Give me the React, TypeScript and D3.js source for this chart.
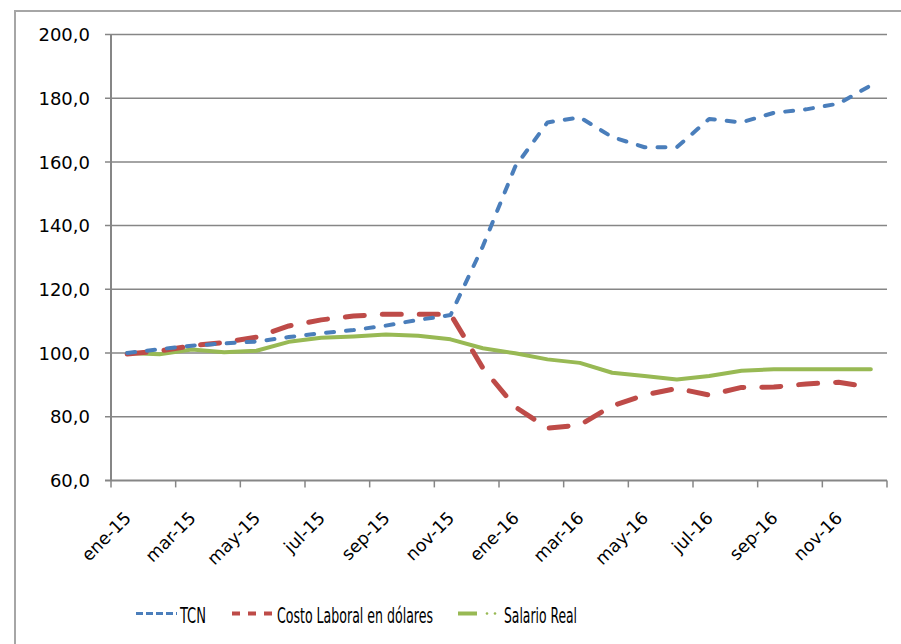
import React from "react";
import * as d3 from "d3";

const months = [
  "ene-15","feb-15","mar-15","abr-15","may-15","jun-15","jul-15","ago-15","sep-15","oct-15","nov-15","dic-15",
  "ene-16","feb-16","mar-16","abr-16","may-16","jun-16","jul-16","ago-16","sep-16","oct-16","nov-16","dic-16",
];
const tcn = [100, 101.2, 102.3, 103, 103.6, 105, 106.2, 107.2, 108.6, 110.4, 111.9, 133.5, 158.5, 172.4, 174, 167.8, 164.6, 164.6, 173.5, 172.4, 175.4, 176.5, 178.3, 184];
const costo = [99.7, 100.6, 102.3, 103.3, 105, 108.5, 110.4, 111.6, 112.2, 112.2, 112.2, 95.3, 83.1, 76.4, 77.4, 83.4, 86.8, 88.9, 86.8, 89.2, 89.3, 90.3, 90.8, 89.2];
const salario = [100, 99.6, 101.1, 100.2, 100.7, 103.5, 104.8, 105.2, 105.8, 105.4, 104.3, 101.5, 99.9, 98, 96.9, 93.8, 92.8, 91.7, 92.8, 94.4, 94.9, 94.9, 94.9, 94.9];
const yTicks = [60, 80, 100, 120, 140, 160, 180, 200];
const seriesNames = ["TCN", "Costo Laboral en dólares", "Salario Real"];

const W = 901, H = 644;
const X0 = 111, X1 = 887, YB = 480.4, YT = 34.5;
const GRID = "#868686";
const FONT = "'DejaVu Sans', sans-serif";
const LFONT = "'Liberation Sans Narrow', 'DejaVu Sans Condensed', sans-serif";

export default function App() {
  const x = d3.scaleBand<string>().domain(months).range([X0, X1]).paddingInner(0).paddingOuter(0);
  const cx = (m: string) => (x(m) as number) + x.bandwidth() / 2;
  const y = d3.scaleLinear().domain([60, 200]).range([YB, YT]);
  const line = d3.line<number>().x((_, i) => cx(months[i])).y((v) => y(v)).curve(d3.curveLinear);

  const tickXs = d3.range(0, months.length + 1, 2).map((i) => X0 + i * x.bandwidth());

  return (
    <svg width={W} height={H} style={{ position: "absolute", left: 0, top: 0, background: "#fff" }}>
      <rect x={0} y={0} width={W} height={H} fill="#fff" />
      <path d={`M15,${H + 5} V11 H${W + 5}`} fill="none" stroke="#a6a6a6" strokeWidth={2} />
      {yTicks.map((t) => (
        <g key={t}>
          <line x1={X0 - 6} x2={X1} y1={y(t)} y2={y(t)} stroke={GRID} strokeWidth={t === 60 ? 2 : 1.5} />
          <text x={90} y={y(t) + 6.6} textAnchor="end" fontFamily={FONT} fontSize={18} fill="#000">
            {d3.format(".1f")(t).replace(".", ",")}
          </text>
        </g>
      ))}
      <line x1={X0} x2={X0} y1={YT} y2={YB} stroke={GRID} strokeWidth={2} />
      {tickXs.map((tx, i) => (
        <line key={i} x1={tx} x2={tx} y1={YB} y2={YB + 7} stroke={GRID} strokeWidth={1.5} />
      ))}
      {months.map((m, i) =>
        i % 2 === 0 ? (
          <text
            key={m}
            transform={`translate(${cx(m) + 5},${519}) rotate(-45)`}
            textAnchor="end"
            fontFamily={FONT}
            fontSize={17.5}
            fill="#000"
          >
            {m}
          </text>
        ) : null
      )}
      <path d={line(salario) || ""} fill="none" stroke="#98b954" strokeWidth={4} strokeLinejoin="round" strokeLinecap="round" />
      <path d={line(costo) || ""} fill="none" stroke="#be4b48" strokeWidth={5} strokeDasharray="19,18" strokeLinecap="round" strokeLinejoin="round" />
      <path d={line(tcn) || ""} fill="none" stroke="#4a7ebb" strokeWidth={4} strokeDasharray="8,12" strokeLinecap="round" strokeLinejoin="round" />

      {/* legend */}
      <line x1={136} x2={177} y1={613.5} y2={613.5} stroke="#4a7ebb" strokeWidth={3} strokeDasharray="7,3" />
      <text x={180} y={622.5} fontFamily={LFONT} fontSize={21} textLength={26} lengthAdjust="spacingAndGlyphs">{seriesNames[0]}</text>
      <line x1={232} x2={272} y1={613.5} y2={613.5} stroke="#be4b48" strokeWidth={4} strokeDasharray="8,8" />
      <text x={277} y={622.5} fontFamily={LFONT} fontSize={21} textLength={156} lengthAdjust="spacingAndGlyphs">{seriesNames[1]}</text>
      <line x1={458} x2={477} y1={613.5} y2={613.5} stroke="#98b954" strokeWidth={4} />
      <circle cx={487} cy={613.5} r={1.3} fill="#98b954" />
      <circle cx={495} cy={613.5} r={1.3} fill="#98b954" />
      <text x={504} y={622.5} fontFamily={LFONT} fontSize={21} textLength={73} lengthAdjust="spacingAndGlyphs">{seriesNames[2]}</text>
    </svg>
  );
}
